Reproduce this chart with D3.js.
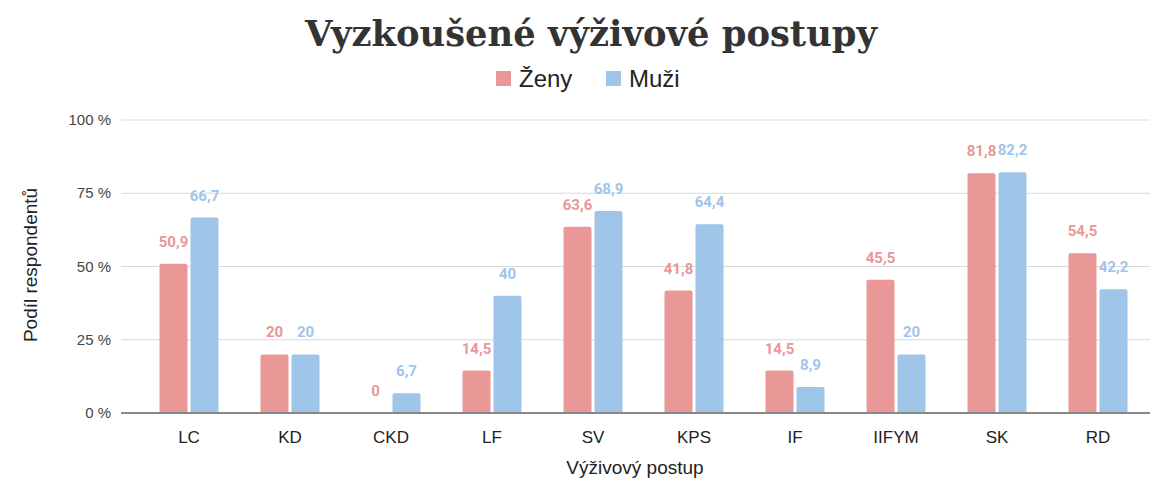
<!DOCTYPE html>
<html><head><meta charset="utf-8">
<script src="https://cdn.jsdelivr.net/npm/d3@7"></script>
<style>body{margin:0;background:#fff}</style>
</head><body>
<svg id="c" width="1160" height="480"></svg>
<script>
const categories = ["LC","KD","CKD","LF","SV","KPS","IF","IIFYM","SK","RD"];
const zeny = [50.9,20,0,14.5,63.6,41.8,14.5,45.5,81.8,54.5];
const muzi = [66.7,20,6.7,40,68.9,64.4,8.9,20,82.2,42.2];
const seriesNames = ["Ženy","Muži"];
const yTicks = [0,25,50,75,100];

const colors = ["#e99797","#9fc5e8"];
const svg = d3.select("#c");
const m = {left:121, right:1150, top:120, bottom:413};
const x = d3.scaleBand().domain(categories).range([138.5,1148.5]).paddingInner(0).paddingOuter(0);
const y = d3.scaleLinear().domain([0,100]).range([m.bottom,m.top]);

svg.append("g").selectAll("line").data(yTicks.filter(d=>d>0)).join("line")
  .attr("x1",m.left).attr("x2",m.right).attr("y1",d=>y(d)).attr("y2",d=>y(d))
  .attr("stroke","#d9d9d9").attr("stroke-width",1);
svg.append("g").selectAll("text").data(yTicks).join("text")
  .attr("x",111).attr("y",d=>y(d)+5).attr("text-anchor","end")
  .attr("font-family","Liberation Sans, Arial, sans-serif").attr("font-size",15).attr("fill","#444")
  .text(d=>d+" %");

const bw = 28, gap = 3;
const series = [zeny, muzi];
series.forEach((vals,si)=>{
  const g = svg.append("g");
  g.selectAll("rect").data(categories).join("rect")
    .attr("x",(c)=>x(c)+x.bandwidth()/2 + (si===0 ? -bw-gap/2 : gap/2))
    .attr("width",bw)
    .attr("y",(c,i)=>y(vals[i]))
    .attr("height",(c,i)=>y(0)-y(vals[i]))
    .attr("rx",2)
    .attr("fill",colors[si]);
  g.selectAll("text").data(categories).join("text")
    .attr("x",(c)=>x(c)+x.bandwidth()/2 + (si===0 ? -bw/2-gap/2 : bw/2+gap/2))
    .attr("y",(c,i)=>y(vals[i])-17)
    .attr("text-anchor","middle")
    .attr("font-family","Roboto, sans-serif").attr("font-weight","bold").attr("font-size",15)
    .attr("fill",colors[si])
    .text((c,i)=>String(vals[i]).replace(".",","));
});

svg.append("line").attr("x1",m.left).attr("x2",m.right).attr("y1",y(0)).attr("y2",y(0))
  .attr("stroke","#888").attr("stroke-width",2);

svg.append("g").selectAll("text").data(categories).join("text")
  .attr("x",c=>x(c)+x.bandwidth()/2).attr("y",443).attr("text-anchor","middle")
  .attr("font-family","Liberation Sans, Arial, sans-serif").attr("font-size",17).attr("fill","#222")
  .text(c=>c);

svg.append("text").attr("x",635).attr("y",474).attr("text-anchor","middle")
  .attr("font-family","Liberation Sans, Arial, sans-serif").attr("font-size",19).attr("fill","#222")
  .text("Výživový postup");
svg.append("text").attr("transform","translate(37,265) rotate(-90)").attr("text-anchor","middle")
  .attr("font-family","Liberation Sans, Arial, sans-serif").attr("font-size",19).attr("fill","#222")
  .text("Podíl respondentů");

svg.append("text").attr("x",591).attr("y",46).attr("text-anchor","middle")
  .attr("font-family","DejaVu Serif, serif").attr("font-weight","bold").attr("font-size",35).attr("fill","#333")
  .attr("textLength",572).attr("lengthAdjust","spacingAndGlyphs")
  .text("Vyzkoušené výživové postupy");

const legX = [496, 606];
seriesNames.forEach((n,i)=>{
  svg.append("rect").attr("x",legX[i]).attr("y",71).attr("width",15).attr("height",15).attr("fill",colors[i]);
  svg.append("text").attr("x",legX[i]+23).attr("y",87)
    .attr("font-family","Liberation Sans, Arial, sans-serif").attr("font-size",24).attr("fill","#222").text(n);
});
</script>
</body></html>
